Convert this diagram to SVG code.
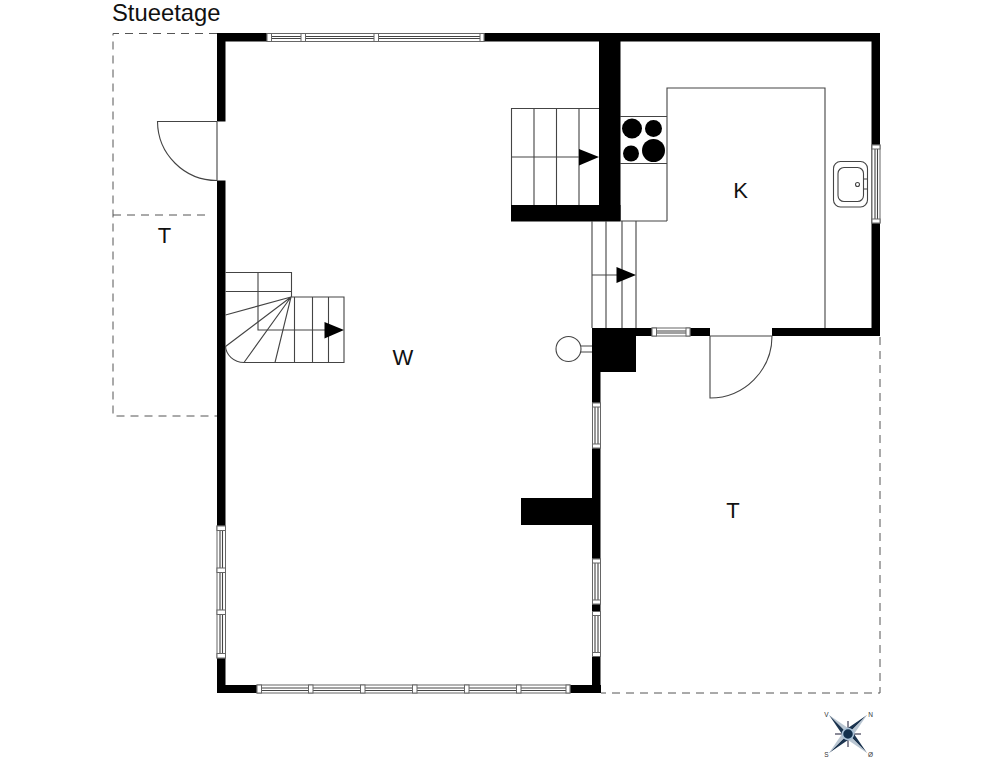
<svg xmlns="http://www.w3.org/2000/svg" width="992" height="776" viewBox="0 0 992 776">
<defs>
<style>
text{font-family:"Liberation Sans",Arial,sans-serif;fill:#111}
.lbl{font-size:22px;text-anchor:middle}
.wall{fill:#000}
.ln{fill:none;stroke:#444;stroke-width:1.1}
.dash{fill:none;stroke:#555;stroke-width:1;stroke-dasharray:8 6}
.win{fill:#fff;stroke:#666;stroke-width:1}
.cmp{font-size:6.500px;fill:#333;text-anchor:middle}
.cd{fill:#1c3550}
.cl{fill:#b9c6d2}
</style>
</defs>
<rect width="992" height="776" fill="#fff"/>
<text x="112" y="21" style="font-size:23.800px">Stueetage</text>
<g id="terrace-lines">
<path class="dash" d="M217 33.500H113V416H217"/>
<path class="dash" d="M113 215H205"/>
<path class="dash" d="M880 337V693H601"/>
</g>
<g id="walls">
<rect class="wall" x="217" y="33" width="663" height="8.500"/>
<rect class="wall" x="217" y="33" width="8.500" height="88.500"/>
<rect class="wall" x="217" y="180.500" width="8.500" height="512.500"/>
<rect class="wall" x="217" y="685" width="384" height="8"/>
<rect class="wall" x="871.500" y="33" width="8.500" height="303"/>
<rect class="wall" x="599" y="33" width="21.500" height="188"/>
<rect class="wall" x="511" y="205" width="109.500" height="16.500"/>
<rect class="wall" x="592" y="328" width="118" height="8"/>
<rect class="wall" x="772" y="328" width="108" height="8"/>
<rect class="wall" x="592" y="328" width="44" height="44"/>
<rect class="wall" x="592" y="328" width="8.500" height="365"/>
<rect class="wall" x="521" y="498" width="75" height="27"/>
</g>
<g id="windows">
<g id="win-top">
<rect class="win" x="267" y="33.500" width="217" height="8"/>
<path class="ln" d="M271 36.500H480M271 38.500H480"/>
<rect class="win" x="267" y="33.500" width="4.500" height="8"/>
<rect class="win" x="301" y="33.500" width="4.500" height="8"/>
<rect class="win" x="374" y="33.500" width="4.500" height="8"/>
<rect class="win" x="480" y="33.500" width="4" height="8"/>
</g>
<g id="win-bottom">
<rect class="win" x="257" y="685" width="313" height="8"/>
<path class="ln" d="M261 688H566M261 690.500H566"/>
<rect class="win" x="257" y="685" width="4.500" height="8"/>
<rect class="win" x="308.500" y="685" width="4.500" height="8"/>
<rect class="win" x="360.500" y="685" width="4.500" height="8"/>
<rect class="win" x="412.500" y="685" width="4.500" height="8"/>
<rect class="win" x="464.500" y="685" width="4.500" height="8"/>
<rect class="win" x="516.500" y="685" width="4.500" height="8"/>
<rect class="win" x="566" y="685" width="4" height="8"/>
</g>
<g id="win-left">
<rect class="win" x="217" y="526" width="8.500" height="132"/>
<path class="ln" d="M220 530V654M222.500 530V654"/>
<rect class="win" x="217" y="526" width="8.500" height="4.500"/>
<rect class="win" x="217" y="568" width="8.500" height="4.500"/>
<rect class="win" x="217" y="610" width="8.500" height="4.500"/>
<rect class="win" x="217" y="653.500" width="8.500" height="4.500"/>
</g>
<g id="win-right-1">
<rect class="win" x="592.500" y="403" width="8" height="45"/>
<path class="ln" d="M595 407V444M598 407V444"/>
<rect class="win" x="592.500" y="403" width="8" height="4"/>
<rect class="win" x="592.500" y="444" width="8" height="4"/>
</g>
<g id="win-right-2">
<rect class="win" x="592.500" y="559" width="8" height="45"/>
<path class="ln" d="M595 563V600M598 563V600"/>
<rect class="win" x="592.500" y="559" width="8" height="4"/>
<rect class="win" x="592.500" y="600" width="8" height="4"/>
</g>
<g id="win-right-3">
<rect class="win" x="592.500" y="611.500" width="8" height="45"/>
<path class="ln" d="M595 615.500V652.500M598 615.500V652.500"/>
<rect class="win" x="592.500" y="611.500" width="8" height="4"/>
<rect class="win" x="592.500" y="652.500" width="8" height="4"/>
</g>
<g id="win-kitchen-side">
<rect class="win" x="872" y="145" width="8" height="78"/>
<path class="ln" d="M875 149V219M877.500 149V219"/>
<rect class="win" x="872" y="145" width="8" height="4"/>
<rect class="win" x="872" y="219" width="8" height="4"/>
</g>
<g id="win-kitchen-bottom">
<rect class="win" x="652" y="328" width="38" height="8"/>
<path class="ln" d="M656.500 331H686M656.500 333H686"/>
<rect class="win" x="652" y="328" width="4.500" height="8"/>
<rect class="win" x="686" y="328" width="4" height="8"/>
</g>
</g>
<g id="doors">
<path class="ln" d="M217 121.500H157.500A59.500 59.500 0 0 0 217 180.500V121.500"/>
<path class="ln" d="M710 336V398A62 62 0 0 0 772 336H710"/>
</g>
<g id="stair-upper">
<path class="ln" d="M599 108.500H511.500V205M534 108.500V205M556.500 108.500V205M579 108.500V205M511.500 157H580"/>
<polygon class="wall" points="579,149 599,157 579,165.500"/>
</g>
<g id="stair-lower">
<path class="ln" d="M592 221V328M606 221V328M622 221V328M636 221V328M592 275H617"/>
<polygon class="wall" points="616.500,267 636,275 616.500,283"/>
</g>
<g id="stair-spiral">
<path class="ln" d="M225.500 272.500H291.500V297H344V362.500H244A19 17 0 0 1 225.500 346M225.500 291.500H291.500M258 272.500V330H325M294.500 297V362.500M312.500 297V362.500M328.500 297V362.500"/>
<path class="ln" d="M291 297L225.500 315M291 297L225.500 346.500M291 297L244 362.500M291 297L275 362.500"/>
<polygon class="wall" points="324.500,322 344,330 324.500,338.500"/>
</g>
<g id="newel">
<circle class="ln" cx="568.500" cy="349" r="12.500"/>
<path class="ln" d="M581 346H592M581 352H592"/>
</g>
<g id="kitchen">
<path class="ln" d="M620 116.500H667M620 163.500H667M667 221V88H825V328M620.500 221H667"/>
<circle class="wall" cx="632" cy="128.500" r="10"/>
<circle class="wall" cx="653.500" cy="128.500" r="8.500"/>
<circle class="wall" cx="631" cy="153.500" r="8"/>
<circle class="wall" cx="653.500" cy="150.500" r="11.500"/>
<g id="sink">
<rect class="ln" x="833.500" y="161.500" width="34" height="45.500" rx="7"/>
<rect class="ln" x="838" y="167.500" width="25.500" height="34" rx="6"/>
<path class="ln" d="M863.500 179H867.500M863.500 189H867.500"/>
<circle class="ln" cx="857.500" cy="184.500" r="2"/>
</g>
</g>
<g id="labels">
<text class="lbl" x="740.500" y="198">K</text>
<text class="lbl" x="403" y="365">W</text>
<text class="lbl" x="164.500" y="243">T</text>
<text class="lbl" x="733" y="517.500">T</text>
</g>
<g id="compass">
<path d="M848 721V747M835 734H861" stroke="#667" stroke-width="1.500" fill="none"/>
<polygon class="cl" points="829,715 848,728 848,734"/>
<polygon class="cd" points="829,715 842,734 848,734"/>
<polygon class="cd" points="867,715 848,728 848,734"/>
<polygon class="cl" points="867,715 854,734 848,734"/>
<polygon class="cd" points="867,753 854,734 848,734"/>
<polygon class="cl" points="867,753 848,740 848,734"/>
<polygon class="cd" points="829,753 848,740 848,734"/>
<polygon class="cl" points="829,753 842,734 848,734"/>
<circle cx="848" cy="734" r="5.500" fill="#12304d" stroke="#a9c2d8" stroke-width="1.500"/>
<text class="cmp" x="826.500" y="716.500">V</text>
<text class="cmp" x="870.500" y="716.500">N</text>
<text class="cmp" x="826.500" y="757">S</text>
<text class="cmp" x="870.500" y="757">Ø</text>
</g>
</svg>
